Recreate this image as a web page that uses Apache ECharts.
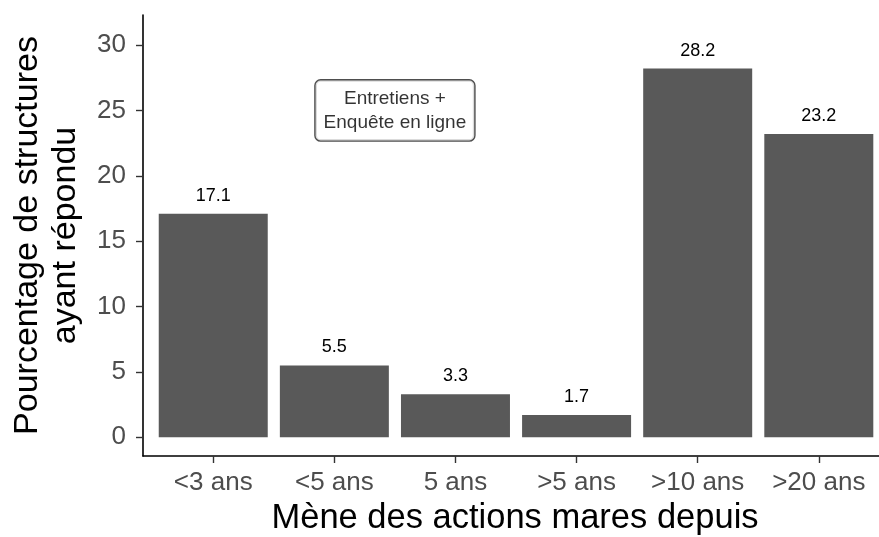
<!DOCTYPE html>
<html>
<head>
<meta charset="utf-8">
<script src="https://cdn.jsdelivr.net/npm/echarts@6/dist/echarts.min.js"></script>
<style>html,body{margin:0;padding:0;background:#fff;}#c{width:879px;height:537px;}</style>
</head>
<body>
<div id="c"></div>
<script>
const categories = ['<3 ans', '<5 ans', '5 ans', '>5 ans', '>10 ans', '>20 ans'];
const values = [17.1, 5.5, 3.3, 1.7, 28.2, 23.2];
const yTicks = [0, 5, 10, 15, 20, 25, 30];
const annotationLines = ['Entretiens +', 'Enquête en ligne'];
const annotationPos = [2.5, 25];
const xTitle = 'Mène des actions mares depuis';
const yTitle = 'Pourcentage de structures\nayant répondu';

const positions = categories.map((c, i) => i + 1);
const barData = values.map((v, i) => [positions[i], v]);
const FONT = '"Liberation Sans", Arial, Helvetica, sans-serif';

const chart = echarts.init(document.getElementById('c'), null, {renderer: 'canvas'});
chart.setOption({
  animation: false,
  backgroundColor: '#ffffff',
  textStyle: {fontFamily: FONT},
  grid: {left: 143, top: 15, right: 0, bottom: 81, containLabel: false, outerBoundsMode: 'none'},
  xAxis: {
    type: 'value',
    min: 0.42,
    max: 6.497,
    splitLine: {show: false},
    axisLine: {show: true, onZero: false, lineStyle: {color: '#000', width: 1.6}},
    axisTick: {show: true, customValues: positions, length: 7, lineStyle: {color: '#333', width: 1.4}},
    axisLabel: {
      customValues: positions,
      formatter: v => categories[Math.round(v) - 1] || '',
      color: '#4d4d4d', fontSize: 26, margin: 14, fontFamily: FONT
    },
    name: xTitle,
    nameLocation: 'middle',
    nameGap: 42,
    nameTextStyle: {color: '#000', fontSize: 34.5, fontFamily: FONT, padding: [0, 0, 0, 8]}
  },
  yAxis: {
    type: 'value',
    min: -1.43,
    max: 32.3,
    splitLine: {show: false},
    axisLine: {show: true, onZero: false, lineStyle: {color: '#000', width: 1.6}},
    axisTick: {show: true, customValues: yTicks, length: 7, lineStyle: {color: '#333', width: 1.4}},
    axisLabel: {customValues: yTicks, color: '#4d4d4d', fontSize: 26, margin: 17, fontFamily: FONT},
    name: yTitle,
    nameLocation: 'middle',
    nameGap: 58,
    nameTextStyle: {color: '#000', fontSize: 34, lineHeight: 38, fontFamily: FONT, align: 'center'}
  },
  series: [
    {
      type: 'bar',
      data: barData,
      barWidth: 109,
      itemStyle: {color: '#595959'},
      label: {
        show: true, position: 'top', distance: 9,
        formatter: p => p.value[1].toFixed(1),
        color: '#000', fontSize: 18, fontFamily: FONT
      }
    },
    {
      type: 'scatter',
      data: [annotationPos],
      symbolSize: 0,
      label: {
        show: true, position: 'inside',
        formatter: () => annotationLines.join('\n'),
        color: '#000', fontSize: 19, lineHeight: 24, fontFamily: FONT,
        backgroundColor: '#fff', borderColor: '#222', borderWidth: 1.4, borderRadius: 5,
        padding: [6, 8], align: 'center', verticalAlign: 'middle'
      }
    }
  ]
});
</script>
</body>
</html>
